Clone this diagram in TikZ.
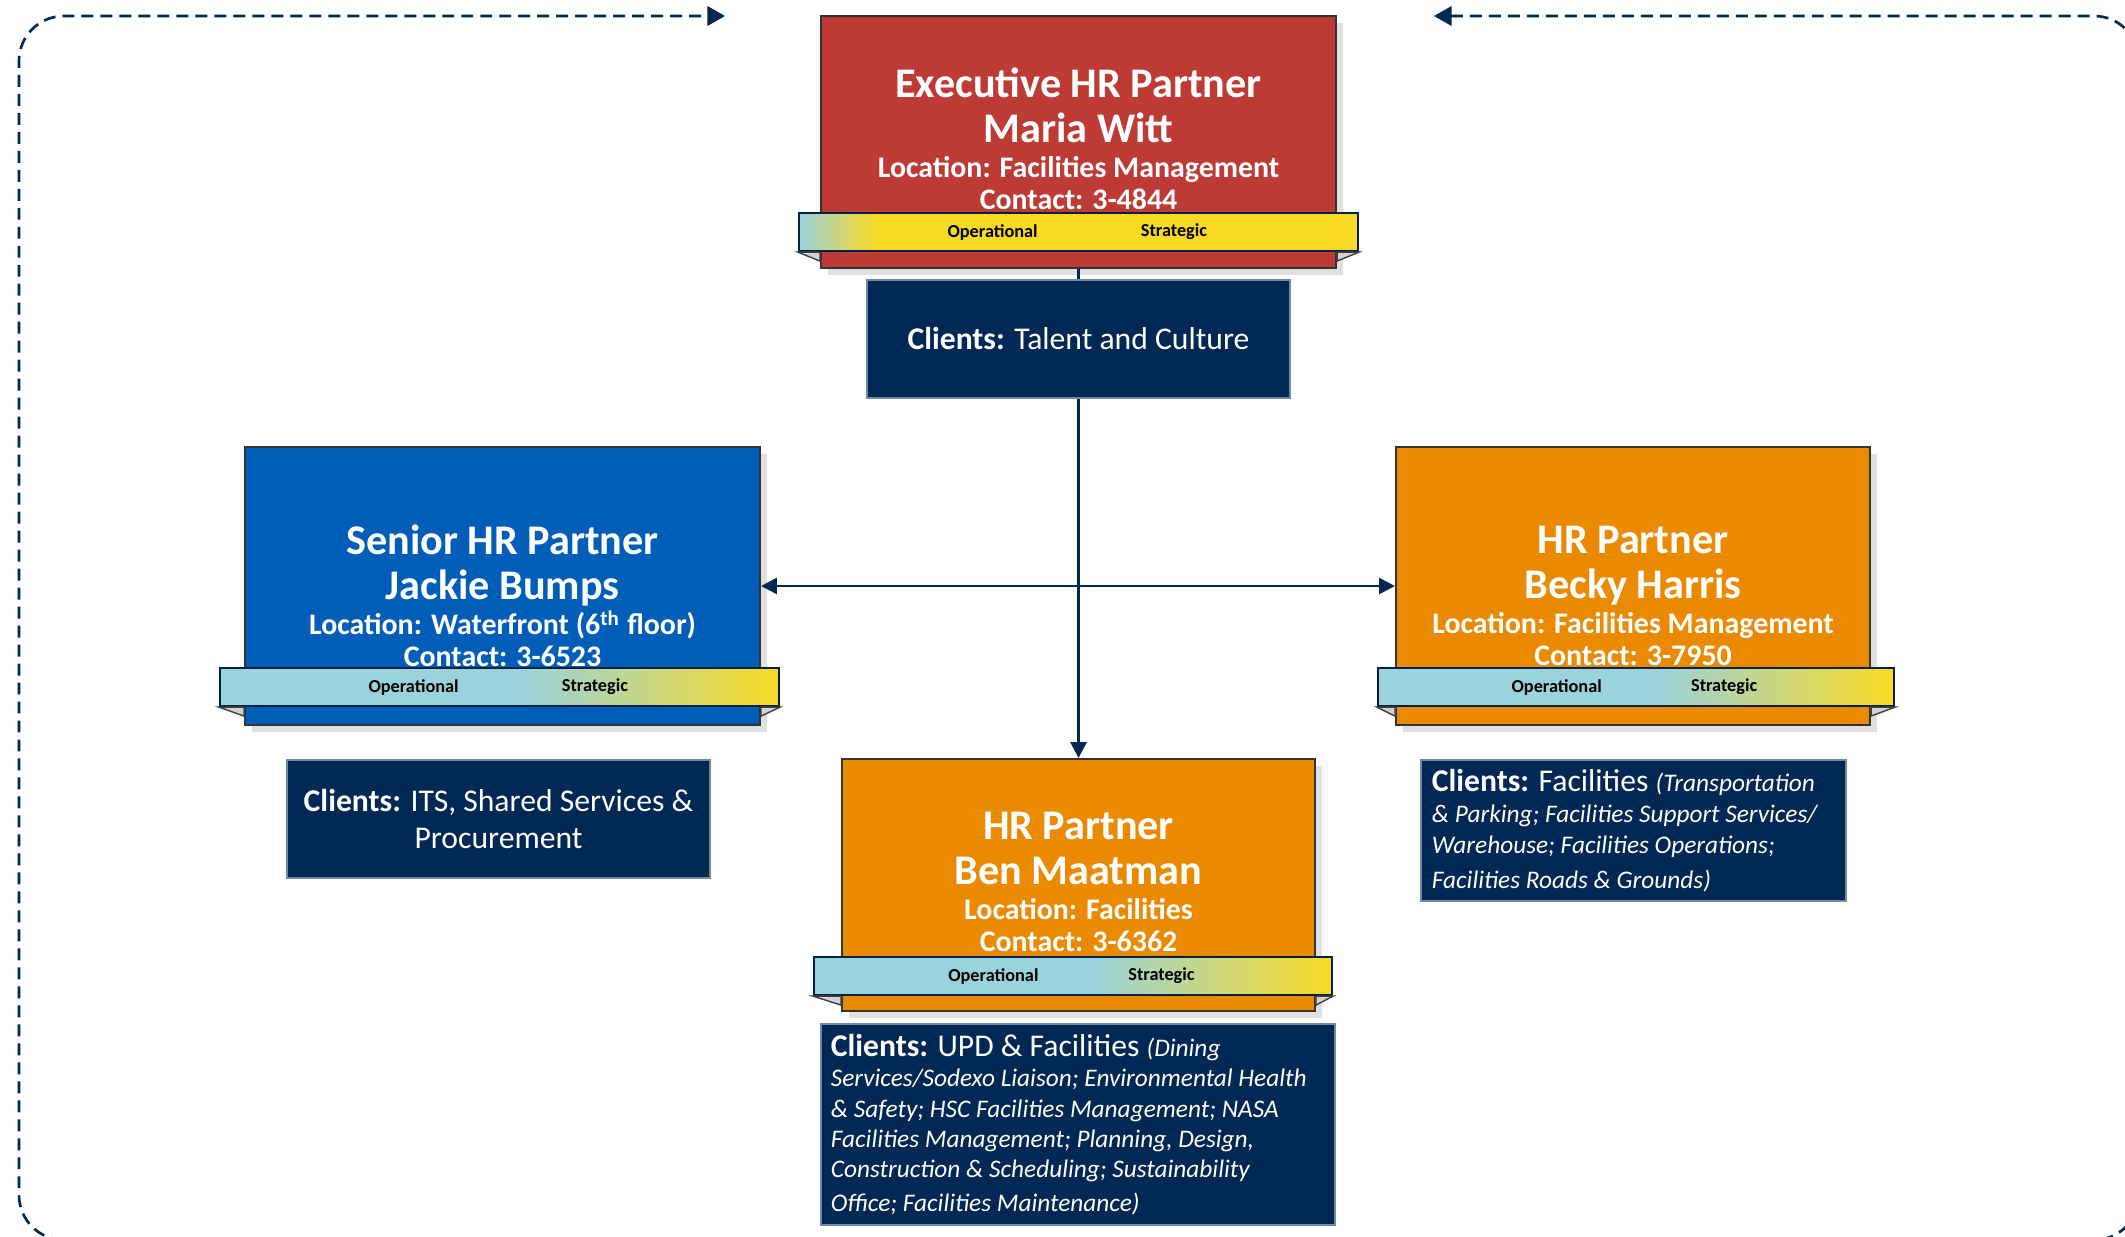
\documentclass[tikz,border=0pt]{standalone}
\usepackage{fontspec}
\setmainfont{Carlito}
\usetikzlibrary{arrows.meta}
\usetikzlibrary{shadows}
\usetikzlibrary{calc}

\definecolor{hrred}{RGB}{190,58,52}
\definecolor{hrblue}{RGB}{0,94,184}
\definecolor{hrorange}{RGB}{233,138,0}
\definecolor{hrnavy}{RGB}{0,40,85}
\definecolor{bandblue}{RGB}{155,211,220}
\definecolor{bandyellow}{RGB}{249,218,35}

\pgfdeclarehorizontalshading{bandshade}{100bp}{color(0bp)=(bandblue); color(25bp)=(bandblue); color(52bp)=(bandblue); color(75bp)=(bandyellow); color(100bp)=(bandyellow)}
\pgfdeclarehorizontalshading{topbandshade}{100bp}{color(0bp)=(bandblue); color(25bp)=(bandblue); color(32bp)=(bandyellow); color(100bp)=(bandyellow)}

\newcommand{\hrtitle}{\fontsize{12}{13}\selectfont}
\newcommand{\hrnote}[1]{\mbox{\fontsize{7.2}{8.8}\selectfont\itshape #1}}

\begin{document}
\begin{tikzpicture}[x=0.01cm,y=-0.01cm]

\useasboundingbox (0,0) rectangle (2125,1236);

\begin{scope}[
    every node/.style={
        draw=black!80,
        line width=0.5pt,
        inner sep=0pt,
        drop shadow={shadow xshift=0.07cm,shadow yshift=-0.07cm,fill=black!12,opacity=1}}]

    \node[fill=hrred, minimum width=5.15cm, minimum height=2.52cm] (exec) at (1078.5,142) {};
    \node[fill=hrblue, minimum width=5.15cm, minimum height=2.78cm] (jackie) at (502.5,586) {};
    \node[fill=hrorange, minimum width=4.74cm, minimum height=2.78cm] (becky) at (1633,586) {};
    \node[fill=hrorange, minimum width=4.73cm, minimum height=2.52cm] (ben) at (1078.5,885) {};
\end{scope}


\begin{scope}[
    every node/.style={
        text=white,
        align=center,
        inner sep=0pt,
        font=\fontsize{8.5}{9}\selectfont\bfseries}]

    \node (exectext) at (1078.5,139)
        {{\hrtitle Executive HR Partner}\\[3.8pt]{\hrtitle Maria Witt}\\[1pt]Location: Facilities Management\\Contact: 3-4844};
    \node (jackietext) at (502.5,596)
        {{\hrtitle Senior HR Partner}\\[3.8pt]{\hrtitle Jackie Bumps}\\[1pt]Location: Waterfront (6\textsuperscript{th} floor)\\Contact: 3-6523};
    \node (beckytext) at (1633,596)
        {{\hrtitle HR Partner}\\[3.8pt]{\hrtitle Becky Harris}\\[1pt]Location: Facilities Management\\Contact: 3-7950};
    \node (bentext) at (1078.5,882)
        {{\hrtitle HR Partner}\\[3.8pt]{\hrtitle Ben Maatman}\\[1pt]Location: Facilities\\Contact: 3-6362};
\end{scope}


\begin{scope}[
    every node/.style={
        draw=hrnavy!80!black,
        line width=0.6pt,
        minimum height=0.38cm,
        inner sep=0pt}]

    \node[shading=topbandshade, minimum width=5.59cm] (execband) at (1078.5,232) {};
    \node[shading=bandshade, minimum width=5.59cm] (jackieband) at (499.5,687) {};
    \node[shading=bandshade, minimum width=5.16cm] (beckyband) at (1636,687) {};
    \node[shading=bandshade, minimum width=5.18cm] (benband) at (1073,976) {};
\end{scope}

% folded band ends
\begin{scope}[fill=gray!35, draw=black!75, line width=0.4pt]
    \filldraw (execband.south west) -- (execband.south -| exec.west) -- ($(execband.south -| exec.west)+(0,9)$) -- cycle
              (execband.south east) -- (execband.south -| exec.east) -- ($(execband.south -| exec.east)+(0,9)$) -- cycle;
    \filldraw (jackieband.south west) -- (jackieband.south -| jackie.west) -- ($(jackieband.south -| jackie.west)+(0,9)$) -- cycle
              (jackieband.south east) -- (jackieband.south -| jackie.east) -- ($(jackieband.south -| jackie.east)+(0,9)$) -- cycle;
    \filldraw (beckyband.south west) -- (beckyband.south -| becky.west) -- ($(beckyband.south -| becky.west)+(0,9)$) -- cycle
              (beckyband.south east) -- (beckyband.south -| becky.east) -- ($(beckyband.south -| becky.east)+(0,9)$) -- cycle;
    \filldraw (benband.south west) -- (benband.south -| ben.west) -- ($(benband.south -| ben.west)+(0,9)$) -- cycle
              (benband.south east) -- (benband.south -| ben.east) -- ($(benband.south -| ben.east)+(0,9)$) -- cycle;
\end{scope}


\begin{scope}[
    every node/.style={
        text=black,
        inner sep=0pt,
        font=\fontsize{5.2}{6}\selectfont\bfseries}]

    \node (execop) at ($(execband.west)!0.347!(execband.east)$) {Operational};
    \node (execstrat) at ($(execband.west)!0.67!(execband.east)$) {Strategic};
    \node (jackieop) at ($(jackieband.west)!0.347!(jackieband.east)$) {Operational};
    \node (jackiestrat) at ($(jackieband.west)!0.67!(jackieband.east)$) {Strategic};
    \node (beckyop) at ($(beckyband.west)!0.347!(beckyband.east)$) {Operational};
    \node (beckystrat) at ($(beckyband.west)!0.67!(beckyband.east)$) {Strategic};
    \node (benop) at ($(benband.west)!0.347!(benband.east)$) {Operational};
    \node (benstrat) at ($(benband.west)!0.67!(benband.east)$) {Strategic};
\end{scope}


\begin{scope}[
    every node/.style={
        fill=hrnavy,
        draw=hrnavy!55!white,
        line width=0.4pt,
        text=white,
        inner sep=0pt,
        font=\fontsize{9}{10.5}\selectfont}]

    \node[minimum width=4.23cm, minimum height=1.18cm] (execclients) at (1078.5,339)
        {\textbf{Clients:} Talent and Culture};
    \node[minimum width=4.23cm, minimum height=1.18cm, align=center] (jackieclients) at (498.5,819)
        {\textbf{Clients:} ITS, Shared Services \&\\Procurement};
    \node[minimum width=4.25cm, minimum height=1.41cm, text width=4.03cm, align=flush left,
          font=\fontsize{9}{8.9}\selectfont] (beckyclients) at (1633.5,830.5)
        {\textbf{Clients:} Facilities \hrnote{(Transportation}\\
         \hrnote{\& Parking; Facilities Support Services/}\\
         \hrnote{Warehouse; Facilities Operations;}\\[1pt]
         \hrnote{Facilities Roads \& Grounds)}};
    \node[minimum width=5.14cm, minimum height=2.01cm, text width=4.94cm, align=flush left,
          font=\fontsize{9}{8.6}\selectfont] (benclients) at (1078,1124.5)
        {\textbf{Clients:} UPD \& Facilities \hrnote{(Dining}\\
         \hrnote{Services/Sodexo Liaison; Environmental Health}\\
         \hrnote{\& Safety; HSC Facilities Management; NASA}\\
         \hrnote{Facilities Management; Planning, Design,}\\
         \hrnote{Construction \& Scheduling; Sustainability}\\[1pt]
         \hrnote{Office; Facilities Maintenance)}};
\end{scope}


\begin{scope}[>={Triangle[length=4.5pt,width=4.5pt]},
              every path/.style={draw=hrnavy, line width=0.8pt}]

    \draw (exec.south) -- (execclients.north);
    \draw[->] (execclients.south) -- (ben.north);
    \coordinate (hub) at (execclients.south |- jackie.east);
    \draw[->] (hub) -- (jackie.east);
    \draw[->] (hub) -- (becky.west);

    % feedback loop round the chart
    \coordinate (loopin) at (725,16);
    \coordinate (loopout) at (1434,16);
    \draw[{Triangle[length=5pt,width=5.5pt]}-{Triangle[length=5pt,width=5.5pt]},
          line width=0.75pt, dash pattern=on 3.4pt off 2pt, rounded corners=0.45cm]
        (loopout) -- (2139,16) -- (2139,1240) -- (19,1240) -- (19,16) -- (loopin);
\end{scope}
\end{tikzpicture}
\end{document}
